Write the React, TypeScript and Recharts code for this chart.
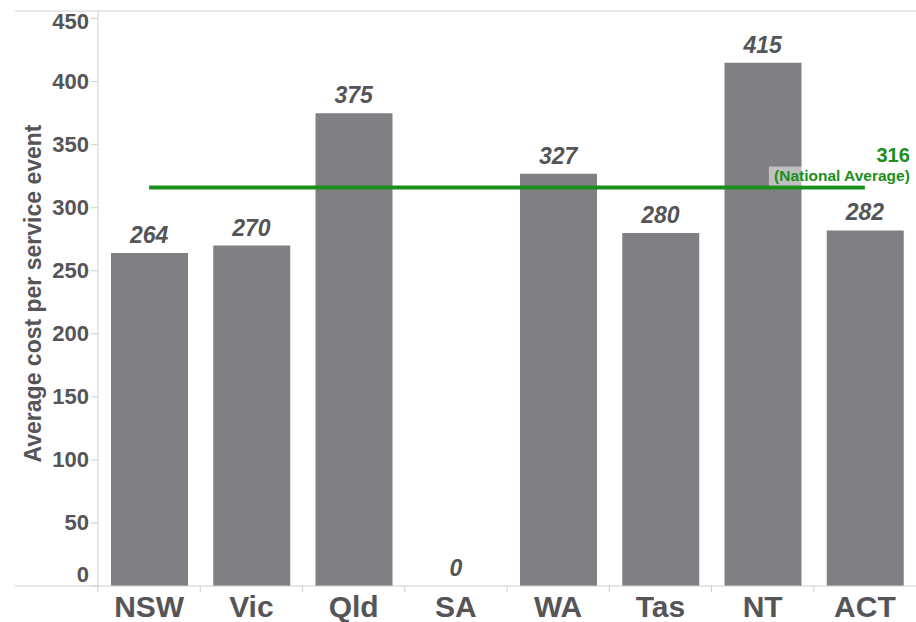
import { ComposedChart, Bar, Line, XAxis, YAxis, ReferenceLine, LabelList, Label } from "recharts";

const categories = ["NSW", "Vic", "Qld", "SA", "WA", "Tas", "NT", "ACT"];
const costs = [264, 270, 375, 0, 327, 280, 415, 282];
const nationalAverage = 316;
const yTicks = [0, 50, 100, 150, 200, 250, 300, 350, 400, 450];
const yMax = 456;

const chartWidth = 916;
const chartHeight = 622;
const margin = { top: 11, right: 0, left: 38, bottom: 0 };
const yAxisWidth = 60;
const plotWidth = chartWidth - margin.left - margin.right - yAxisWidth;
const bandWidth = plotWidth / categories.length;

const font = "'Liberation Sans', Arial, sans-serif";
const textColor = "#555558";
const lineColor = "#cfcfcf";
const barColor = "#808084";
const green = "#1b8f1b";

const data = categories.map((state, i) => ({ state, cost: costs[i] }));

function YTick({ x, y, payload }: any) {
  const value = payload.value;
  if (value === yMax) {
    return <line x1={15} x2={chartWidth} y1={y} y2={y} stroke={lineColor} strokeWidth={1} />;
  }
  // Tableau pushes the end labels inward
  const shift = value === 0 ? -12 : value === 450 ? 3 : 0;
  return (
    <g>
      {value === 0 && <line x1={15} x2={x} y1={y} y2={y} stroke={lineColor} strokeWidth={1} />}
      <line x1={x - 7} x2={x} y1={y} y2={y} stroke={lineColor} strokeWidth={1} />
      <text
        x={x - 9}
        y={y + shift}
        textAnchor="end"
        dominantBaseline="central"
        fontFamily={font}
        fontWeight="bold"
        fontSize={22}
        fill={textColor}
      >
        {value}
      </text>
    </g>
  );
}

function XTick({ x, y, payload }: any) {
  const left = x - bandWidth / 2;
  return (
    <g>
      <line x1={left} x2={left} y1={y} y2={y + 6} stroke={lineColor} strokeWidth={1} />
      <text
        x={x}
        y={y + 31}
        textAnchor="middle"
        fontFamily={font}
        fontWeight="bold"
        fontSize={30}
        fill={textColor}
      >
        {payload.value}
      </text>
    </g>
  );
}

function YTitle({ viewBox }: any) {
  const cy = viewBox.y + viewBox.height / 2 - 5;
  return (
    <text
      x={33}
      y={cy}
      transform={`rotate(-90, 33, ${cy})`}
      textAnchor="middle"
      dominantBaseline="central"
      fontFamily={font}
      fontWeight="bold"
      fontSize={23}
      fill={textColor}
    >
      Average cost per service event
    </text>
  );
}

// labels hang off an invisible line so the zero bar (SA) still gets its "0"
function ValueLabel({ x, y, value }: any) {
  return (
    <text
      x={x}
      y={Number(y) - 10}
      textAnchor="middle"
      fontFamily={font}
      fontWeight="bold"
      fontStyle="italic"
      fontSize={23}
      fill={textColor}
    >
      {value}
    </text>
  );
}

function AverageLabel({ viewBox }: any) {
  const right = viewBox.x + (viewBox.width || 0) + 45;
  const y = viewBox.y;
  return (
    <g>
      <rect x={right - 141} y={y - 21} width={142} height={19} fill="#ffffff" fillOpacity={0.5} />
      <text x={right} y={y - 26} textAnchor="end" fontFamily={font} fontWeight="bold" fontSize={20} fill={green}>
        {nationalAverage}
      </text>
      <text x={right} y={y - 7} textAnchor="end" fontFamily={font} fontWeight="bold" fontSize={15.5} fill={green}>
        (National Average)
      </text>
    </g>
  );
}

export default function App() {
  return (
    <div style={{ position: "absolute", left: 0, top: 0, background: "#fff" }}>
      <ComposedChart width={chartWidth} height={chartHeight} data={data} margin={margin} barCategoryGap={0}>
        <XAxis
          dataKey="state"
          height={36}
          axisLine={{ stroke: lineColor }}
          tickLine={false}
          tickSize={0}
          tickMargin={0}
          interval={0}
          tick={<XTick />}
        />
        <YAxis
          width={yAxisWidth}
          domain={[0, yMax]}
          ticks={[...yTicks, yMax]}
          interval={0}
          axisLine={{ stroke: lineColor }}
          tickLine={false}
          tickSize={0}
          tickMargin={0}
          tick={<YTick />}
        >
          <Label content={YTitle} />
        </YAxis>
        <Bar dataKey="cost" fill={barColor} barSize={77} isAnimationActive={false} />
        <Line
          dataKey="cost"
          stroke="none"
          dot={false}
          activeDot={false}
          legendType="none"
          isAnimationActive={false}
        >
          <LabelList dataKey="cost" content={ValueLabel} />
        </Line>
        <ReferenceLine
          segment={[
            { x: categories[0], y: nationalAverage },
            { x: categories[categories.length - 1], y: nationalAverage },
          ]}
          stroke={green}
          strokeWidth={4}
          label={AverageLabel}
        />
      </ComposedChart>
    </div>
  );
}
